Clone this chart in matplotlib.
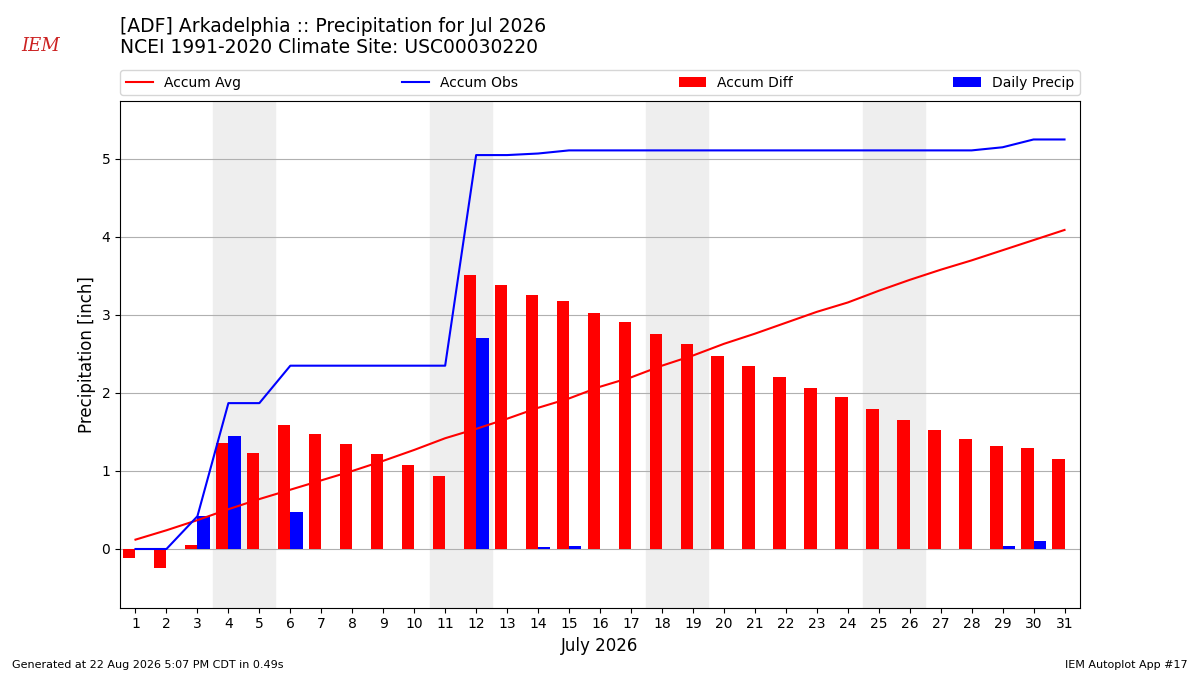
import numpy as np
import matplotlib
matplotlib.use("Agg")
import matplotlib.pyplot as plt

days = np.arange(1, 32)
# daily observed precipitation (inch), zero days omitted from the picture
daily_precip = [0, 0, 0.42, 1.45, 0, 0.48, 0, 0, 0, 0, 0, 2.70, 0, 0.02, 0.04,
                0, 0, 0, 0, 0, 0, 0, 0, 0, 0, 0, 0, 0, 0.04, 0.10, 0]
accum_obs = [0, 0, 0.42, 1.87, 1.87, 2.35, 2.35, 2.35, 2.35, 2.35, 2.35, 5.05,
             5.05, 5.07, 5.11, 5.11, 5.11, 5.11, 5.11, 5.11, 5.11, 5.11, 5.11,
             5.11, 5.11, 5.11, 5.11, 5.11, 5.15, 5.25, 5.25]
accum_avg = [0.12, 0.24, 0.37, 0.51, 0.64, 0.76, 0.88, 1.00, 1.13, 1.27, 1.42,
             1.54, 1.67, 1.81, 1.93, 2.08, 2.20, 2.35, 2.48, 2.63, 2.76, 2.90,
             3.04, 3.16, 3.31, 3.45, 3.58, 3.70, 3.83, 3.96, 4.09]
weekends = [4, 11, 18, 25]

accum_diff = np.array(accum_obs) - np.array(accum_avg)

fig = plt.figure(figsize=(12, 6.75), dpi=100)
ax = fig.add_axes([0.1, 0.1, 0.8, 0.75])

for d in weekends:
    ax.axvspan(d - 0.5, d + 1.5, color="#eeeeee", zorder=0)

ax.plot(days, accum_avg, color="r", lw=1.5, label="Accum Avg", zorder=3)
ax.plot(days, accum_obs, color="b", lw=1.5, label="Accum Obs", zorder=3)
ax.bar(days, accum_diff, width=-0.4, align="edge", color="r",
       label="Accum Diff", zorder=2)
ax.bar(days, daily_precip, width=0.4, align="edge", color="b",
       label="Daily Precip", zorder=2)

ax.set_xlim(0.5, 31.5)
ax.set_ylim(-0.75, 5.74)
ax.set_xticks(days)
ax.set_yticks(range(0, 6))
ax.tick_params(labelsize=10)
ax.grid(axis="y", color="#b0b0b0", lw=0.8, zorder=1)
ax.set_axisbelow(True)
ax.set_xlabel("July 2026", fontsize=12)
ax.set_ylabel("Precipitation [inch]", fontsize=12)

ax.legend(loc="lower left", bbox_to_anchor=(0, 1.012, 1, 0.05), mode="expand",
          ncol=4, fontsize=10, borderaxespad=0)

fig.text(0.1, 0.915, "[ADF] Arkadelphia :: Precipitation for Jul 2026\n"
         "NCEI 1991-2020 Climate Site: USC00030220", fontsize=13.5,
         va="bottom", ha="left", linespacing=1.15)
fig.text(0.01, 0.01, "Generated at 22 Aug 2026 5:07 PM CDT in 0.49s", fontsize=8)
fig.text(0.99, 0.01, "IEM Autoplot App #17", fontsize=8, ha="right")

# simple stand-in for the IEM logo
fig.text(0.018, 0.925, "IEM", fontsize=13, color="#cc2222", style="italic",
         family="DejaVu Serif")

fig.savefig("out.png", dpi=100)
